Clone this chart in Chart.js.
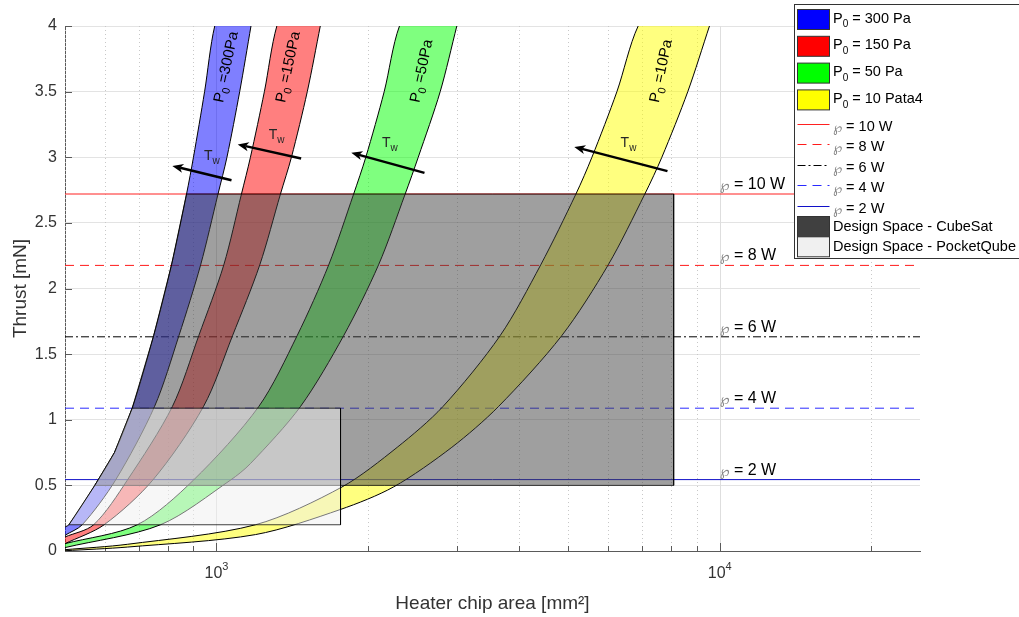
<!DOCTYPE html>
<html>
<head>
<meta charset="utf-8">
<script src="https://cdn.jsdelivr.net/npm/chart.js@4"></script>
<style>
  html, body { margin: 0; padding: 0; background: #fff; }
  #wrap { width: 1019px; height: 617px; }
</style>
</head>
<body>
<div id="wrap"><canvas id="chart" width="1019" height="617"></canvas></div>
<script>
// thrust [mN] vs heater chip area [mm^2], one band per stagnation pressure P0
// every band is bounded by two curves (wall temperature range): [area, thrust]
const upper300 = [[500,0.183],[509,0.2],[573,0.5],[627,0.75],[680,1.088],[750,1.64],[814,2.18],[872,2.72],[900,3.0],[947,3.5],[992,4.0],[1171,5.0]];
const lower300 = [[500,0.12],[541,0.2],[630,0.54],[753,1.1],[842,1.64],[930,2.18],[1007,2.72],[1049,3.0],[1112,3.5],[1171,4.0]];
const upper150 = [[500,0.107],[570,0.2],[665,0.54],[817,1.1],[922,1.64],[1034,2.18],[1121,2.72],[1168,3.0],[1245,3.5],[1318,4.0],[1608,5.0]];
const lower150 = [[500,0.056],[598,0.2],[747,0.54],[942,1.1],[1076,1.64],[1219,2.18],[1340,2.72],[1409,3.0],[1515,3.5],[1608,4.0]];
const upper50 = [[500,0.056],[696,0.2],[900,0.54],[1213,1.1],[1446,1.64],[1671,2.18],[1873,2.72],[1980,3.0],[2154,3.5],[2310,4.0],[3003,5.0]];
const lower50 = [[500,0.026],[774,0.2],[1066,0.54],[1168,0.666],[1468,1.1],[1789,1.64],[2099,2.18],[2371,2.72],[2517,3.0],[2783,3.5],[3003,4.0]];
const upper10 = [[500,0.01],[665,0.051],[1195,0.2],[1776,0.488],[2286,0.79],[2817,1.1],[3660,1.64],[4408,2.18],[5179,2.72],[5572,3.0],[6247,3.5],[6885,4.0],[9541,5.0]];
const lower10 = [[500,0.002],[665,0.03],[1195,0.125],[1762,0.316],[2248,0.488],[2935,0.79],[3632,1.1],[4852,1.64],[6003,2.18],[7099,2.72],[7673,3.0],[8640,3.5],[9541,4.0]];

const pressureLabels = ['300', '150', '50', '10'];
const legendPressure = ['300 Pa', '150 Pa', '50 Pa', '10 Pata4'];

// heater power lines
const powerLevels = [10, 8, 6, 4, 2];
const powerThrust = [2.72, 2.176, 1.632, 1.088, 0.544];

// design spaces: thrust range and max chip area, left side bounded by the 300 Pa curve
const cubeSatThrust = [0.5, 2.72];
const cubeSatMaxArea = 8100;
const pocketQubeThrust = [0.2, 1.088];
const pocketQubeMaxArea = 1764;

const areaRange = [500, 25000];
const areaTicks = [500,600,700,800,900,1000,2000,3000,4000,5000,6000,7000,8000,9000,10000,20000];
const areaTickLabels = ['','','','','','10^3','','','','','','','','','10^4',''];
const thrustTicks = [0,0.5,1,1.5,2,2.5,3,3.5,4];
const thrustTickLabels = ['0','0.5','1','1.5','2','2.5','3','3.5','4'];

const FONT = "'Liberation Sans', Arial, sans-serif";
const pts = arr => arr.map(([x, y]) => ({x, y}));

function designSpace(thr, maxArea) {
  const left = upper300.filter(p => p[1] >= thr[0] && p[1] <= thr[1]);
  const poly = left.concat([[maxArea, thr[1]], [maxArea, thr[0]], left[0]]);
  return pts(poly);
}

const bands = [
  {upper: upper300, lower: lower300, color: 'rgba(0,0,255,0.5)', solid: '#0000ff'},
  {upper: upper150, lower: lower150, color: 'rgba(255,0,0,0.5)', solid: '#ff0000'},
  {upper: upper50, lower: lower50, color: 'rgba(0,255,0,0.5)', solid: '#00ff00'},
  {upper: upper10, lower: lower10, color: 'rgba(255,255,0,0.5)', solid: '#ffff00'}
];
const powerStyles = [
  {color: '#ff2020', dash: []},
  {color: '#ff1a1a', dash: [9, 6]},
  {color: '#000000', dash: [8, 3, 2, 3]},
  {color: '#2a2aff', dash: [9, 6]},
  {color: '#1010c8', dash: []}
];

const datasets = [];
datasets.push({
  label: 'Design Space - PocketQube', data: designSpace(pocketQubeThrust, pocketQubeMaxArea),
  showLine: true, fill: 'shape', backgroundColor: 'rgba(240,240,240,0.5)',
  borderColor: 'rgba(0,0,0,0.75)', borderWidth: 1, tension: 0, order: 1
});
datasets.push({
  label: 'Design Space - CubeSat', data: designSpace(cubeSatThrust, cubeSatMaxArea),
  showLine: true, fill: 'shape', backgroundColor: 'rgba(64,64,64,0.5)',
  borderColor: 'rgba(0,0,0,0.75)', borderWidth: 1, tension: 0, order: 2
});
bands.forEach((b, i) => {
  datasets.push({
    label: 'P0 = ' + legendPressure[i], data: pts(b.upper), showLine: true,
    fill: '+1', backgroundColor: b.color, borderColor: '#000', borderWidth: 1,
    tension: 0.3, order: 3
  });
  datasets.push({
    label: 'lower ' + pressureLabels[i], data: pts(b.lower), showLine: true,
    fill: false, borderColor: '#000', borderWidth: 1, tension: 0.3, order: 2.9
  });
});
powerThrust.forEach((v, i) => {
  datasets.push({
    label: powerLevels[i] + ' W', data: pts([[areaRange[0], v], [areaRange[1], v]]),
    showLine: true, fill: false, borderColor: powerStyles[i].color,
    borderDash: powerStyles[i].dash, borderWidth: 1, tension: 0, order: 4
  });
});

// annotation positions in data units [area, thrust]
const bandLabelPos = [[1047, 3.687], [1390, 3.687], [2559, 3.656], [7656, 3.656]];
const arrowTail = [[1071, 2.825], [1473, 2.991], [2590, 2.881], [7873, 2.894]];
const arrowHead = [[817, 2.934], [1102, 3.098], [1853, 3.034], [5140, 3.079]];
const twLabelPos = [[944, 3.011], [1270, 3.168], [2132, 3.110], [6353, 3.105]];
const powerLabelArea = 10000;

function rich(ctx, x, y, parts, align) {
  // parts: [text, size, dy, color, family]
  let w = 0;
  parts.forEach(p => { ctx.font = p[1] + 'px ' + (p[4] || FONT); w += ctx.measureText(p[0]).width; });
  let cx = align === 'center' ? x - w / 2 : x;
  parts.forEach(p => {
    ctx.font = p[1] + 'px ' + (p[4] || FONT);
    ctx.fillStyle = p[3] || '#000';
    ctx.fillText(p[0], cx, y + p[2]);
    cx += ctx.measureText(p[0]).width;
  });
}

function arrow(ctx, x1, y1, x2, y2) {
  const a = Math.atan2(y2 - y1, x2 - x1), c = Math.cos(a), s = Math.sin(a);
  const L = 11, W = 4.5, N = 3;
  const bx = x2 - L * c, by = y2 - L * s;
  const nx = x2 - (L - N) * c, ny = y2 - (L - N) * s;
  ctx.beginPath(); ctx.moveTo(x1, y1); ctx.lineTo(nx, ny); ctx.stroke();
  ctx.beginPath();
  ctx.moveTo(x2, y2);
  ctx.lineTo(bx + W * s, by - W * c);
  ctx.lineTo(nx, ny);
  ctx.lineTo(bx - W * s, by + W * c);
  ctx.closePath(); ctx.fill();
}

const isDecade = v => Math.abs(Math.log10(v) - Math.round(Math.log10(v))) < 1e-9;

const decorations = {
  id: 'decorations',
  beforeDatasetsDraw(chart) {
    const {ctx, chartArea: ca, scales: {x, y}} = chart;
    ctx.save();
    ctx.lineWidth = 1;
    x.ticks.forEach(tk => {
      const xp = Math.round(x.getPixelForValue(tk.value)) + 0.5;
      const major = isDecade(tk.value);
      ctx.strokeStyle = major ? '#dedede' : '#c8c8c8';
      ctx.setLineDash(major ? [] : [1, 3]);
      ctx.beginPath(); ctx.moveTo(xp, ca.top); ctx.lineTo(xp, ca.bottom); ctx.stroke();
    });
    ctx.setLineDash([]);
    ctx.strokeStyle = '#5a5a5a';
    x.ticks.forEach(tk => {
      const xp = Math.round(x.getPixelForValue(tk.value)) + 0.5;
      const len = isDecade(tk.value) ? 8 : 5;
      ctx.beginPath(); ctx.moveTo(xp, ca.bottom); ctx.lineTo(xp, ca.bottom - len); ctx.stroke();
    });
    y.ticks.forEach(tk => {
      const yp = Math.round(y.getPixelForValue(tk.value)) + 0.5;
      ctx.beginPath(); ctx.moveTo(ca.left, yp); ctx.lineTo(ca.left + 7, yp); ctx.stroke();
    });
    ctx.restore();
  },
  afterDatasetsDraw(chart) {
    const {ctx, chartArea: ca, scales: {x, y}} = chart;
    ctx.save();
    ctx.textAlign = 'left';
    ctx.textBaseline = 'middle';
    // rotated band labels
    bandLabelPos.forEach((p, i) => {
      ctx.save();
      ctx.translate(x.getPixelForValue(p[0]), y.getPixelForValue(p[1]));
      ctx.rotate(-78 * Math.PI / 180);
      rich(ctx, 0, 0, [['P', 15, 0], ['0', 11, 5], [' =' + pressureLabels[i] + 'Pa', 15, 0]], 'center');
      ctx.restore();
    });
    // wall temperature arrows
    ctx.strokeStyle = '#000'; ctx.fillStyle = '#000'; ctx.lineWidth = 2.5;
    arrowTail.forEach((t, i) => {
      arrow(ctx, x.getPixelForValue(t[0]), y.getPixelForValue(t[1]),
        x.getPixelForValue(arrowHead[i][0]), y.getPixelForValue(arrowHead[i][1]));
    });
    twLabelPos.forEach(p => {
      rich(ctx, x.getPixelForValue(p[0]), y.getPixelForValue(p[1]),
        [['T', 14, 0, '#262626'], ['w', 10, 5, '#262626']], 'left');
    });
    // power labels
    ctx.textBaseline = 'alphabetic';
    powerThrust.forEach((v, i) => {
      const yp = y.getPixelForValue(v) - 5;
      rich(ctx, x.getPixelForValue(powerLabelArea), yp,
        [['℘', 14, 1, '#808080', "'DejaVu Sans', sans-serif"], [' = ' + powerLevels[i] + ' W', 16, 0, '#000']], 'left');
    });
    // x tick labels as base with superscript exponent
    ctx.textBaseline = 'middle';
    areaTicks.forEach((v, i) => {
      const lab = areaTickLabels[i];
      if (!lab) return;
      const [base, exp] = lab.split('^');
      rich(ctx, x.getPixelForValue(v), ca.bottom + 23,
        [[base, 16, 0, '#333'], [exp, 11, -7, '#333']], 'center');
    });
    ctx.restore();
  },
  afterDraw(chart) {
    const ctx = chart.ctx;
    ctx.save();
    // legend box
    ctx.fillStyle = '#fff';
    ctx.fillRect(794.5, 4.5, 300, 254);
    ctx.strokeStyle = '#333'; ctx.lineWidth = 1;
    ctx.strokeRect(794.5, 4.5, 300, 254);
    ctx.textAlign = 'left'; ctx.textBaseline = 'middle';
    const sx = 797.5, sw = 32, tx = 833;
    bands.forEach((b, i) => {
      const top = 9.5 + i * 26.8;
      ctx.fillStyle = b.solid; ctx.fillRect(sx, top, sw, 20);
      ctx.strokeStyle = '#333'; ctx.strokeRect(sx, top, sw, 20);
      rich(ctx, tx, top + 9, [['P', 14.5, 0], ['0', 10, 6], [' = ' + legendPressure[i], 14.5, 0]], 'left');
    });
    powerLevels.forEach((p, i) => {
      const yl = Math.round(124 + i * 20.4) + 0.5;
      ctx.strokeStyle = powerStyles[i].color; ctx.lineWidth = 1;
      ctx.setLineDash(powerStyles[i].dash);
      ctx.beginPath(); ctx.moveTo(sx, yl); ctx.lineTo(sx + sw, yl); ctx.stroke();
      ctx.setLineDash([]);
      rich(ctx, tx, yl + 2, [['℘', 13, 2, '#808080', "'DejaVu Sans', sans-serif"], [' = ' + p + ' W', 14.5, 0, '#000']], 'left');
    });
    const spaces = [['#404040', 'Design Space - CubeSat'], ['#f0f0f0', 'Design Space - PocketQube']];
    spaces.forEach((s, i) => {
      const top = 216.5 + i * 20.3;
      ctx.fillStyle = s[0]; ctx.fillRect(sx, top, sw, 20);
      ctx.strokeStyle = '#333'; ctx.strokeRect(sx, top, sw, 20);
      rich(ctx, tx, top + 10.5, [[s[1], 14.5, 0, '#000']], 'left');
    });
    ctx.restore();
  }
};

new Chart(document.getElementById('chart'), {
  type: 'scatter',
  data: {datasets},
  options: {
    responsive: false,
    animation: false,
    devicePixelRatio: 1,
    events: [],
    layout: {padding: {top: 26, right: 99, left: 0, bottom: 0}},
    elements: {point: {radius: 0}, line: {borderJoinStyle: 'round', capBezierPoints: false}},
    plugins: {legend: {display: false}, tooltip: {enabled: false}},
    scales: {
      x: {
        type: 'logarithmic', min: areaRange[0], max: areaRange[1],
        afterBuildTicks: s => { s.ticks = areaTicks.map(v => ({value: v})); },
        afterFit: s => { s.height = 66; },
        ticks: {autoSkip: false, maxRotation: 0, padding: 13, color: '#333',
          font: {family: FONT, size: 16}, callback: () => ''},
        grid: {color: 'rgba(0,0,0,0)', drawTicks: false},
        border: {color: '#5a5a5a', width: 1},
        title: {display: true, text: 'Heater chip area [mm²]', color: '#333',
          font: {family: FONT, size: 19}, padding: {top: 0, bottom: 2}}
      },
      y: {
        min: 0, max: 4,
        afterBuildTicks: s => { s.ticks = thrustTicks.map(v => ({value: v})); },
        afterFit: s => { s.width = 65; },
        ticks: {padding: 8, color: '#333', font: {family: FONT, size: 16},
          callback: (v, i) => thrustTickLabels[i]},
        grid: {color: '#e3e3e3', drawTicks: false},
        border: {color: '#5a5a5a', width: 1},
        title: {display: true, text: 'Thrust [mN]', color: '#333',
          font: {family: FONT, size: 19}, padding: {top: 9, bottom: 0}}
      }
    }
  },
  plugins: [decorations]
});
</script>
</body>
</html>
